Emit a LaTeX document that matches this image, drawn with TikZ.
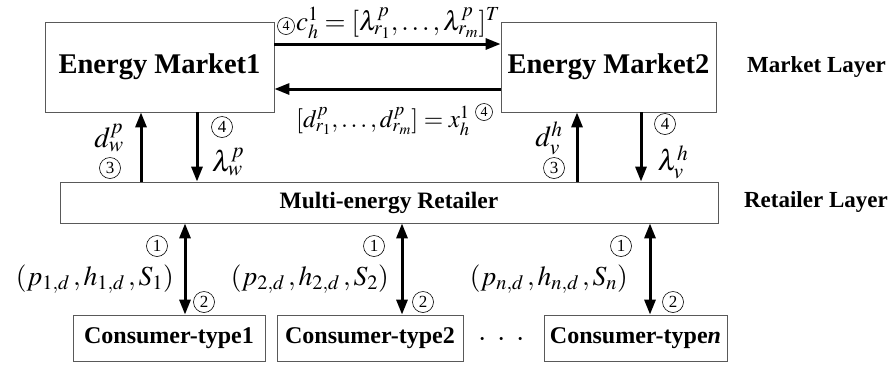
\documentclass[tikz,border=0pt]{standalone}
\usepackage{mathptmx}
\usepackage[no-math]{fontspec}
\setmainfont{Liberation Serif}
\usetikzlibrary{arrows.meta}
\begin{document}
\begin{tikzpicture}[x=1pt,y=-1pt,
  box/.style={draw=black!65,line width=0.8pt,inner sep=0pt,font=\bfseries},
  arr/.style={line width=3pt,-{Triangle[length=15pt,width=11pt]}},
  darr/.style={line width=3pt,{Triangle[length=15pt,width=11pt]}-{Triangle[length=15pt,width=11pt]}},
  cn/.style={circle,draw,line width=0.6pt,inner sep=0pt,minimum size=21pt,font=\fontsize{17}{17}\selectfont},
  cns/.style={circle,draw,line width=0.6pt,inner sep=0pt,minimum size=17pt,font=\fontsize{14}{14}\selectfont},
  lbl/.style={inner sep=0pt,font=\fontsize{27}{29}\selectfont},
  lblb/.style={inner sep=0pt,font=\fontsize{25}{27}\selectfont},
  big/.style={inner sep=0pt,font=\fontsize{29}{31}\selectfont},
  tup/.style={inner sep=0pt,font=\fontsize{27.5}{29}\selectfont},
  layer/.style={inner sep=0pt,font=\fontsize{23}{26}\selectfont\bfseries}]
\path[use as bounding box] (0,0) rectangle (891,365);
% boxes
\node[box,minimum width=229pt,minimum height=90pt,font=\fontsize{28.5}{32}\selectfont\bfseries] (m1) at (159.5,67) {Energy Market1};
\node[box,minimum width=215pt,minimum height=90pt,font=\fontsize{28.5}{32}\selectfont\bfseries] (m2) at (608.5,67) {Energy Market2};
\node[box,minimum width=658pt,minimum height=41pt,font=\fontsize{23.5}{26}\selectfont\bfseries] (ret) at (389,202.5) {Multi-energy Retailer};
\node[box,minimum width=192pt,minimum height=46pt,font=\fontsize{24}{26}\selectfont\bfseries] (c1) at (169,338) {Consumer-type1};
\node[box,minimum width=186pt,minimum height=46pt,font=\fontsize{24}{26}\selectfont\bfseries] (c2) at (370,338) {Consumer-type2};
\node[box,minimum width=183pt,minimum height=46pt,font=\fontsize{24}{26}\selectfont\bfseries] (cn3) at (635.5,338) {Consumer-type\textit{n}};
\node[inner sep=0pt,font=\fontsize{30}{30}\selectfont] (dots) at (502,340) {$\cdot\;\cdot\;\cdot$};
% layer labels
\node[layer,anchor=east] (ml) at (886,67) {Market Layer};
\node[layer,anchor=east] (rl) at (888,202) {Retailer Layer};
% market to market
\draw[arr] ([yshift=23pt]m1.east) -- ([yshift=23pt]m2.west);
\draw[arr] ([yshift=-22pt]m2.west) -- ([yshift=-22pt]m1.east);
\node[cns] (n4a) at (286,26) {4};
\node[lbl,anchor=west] (lt) at (296,23) {$c_h^1=[\lambda^p_{r_1},\ldots,\lambda^p_{r_m}]^T$};
\node[lblb,anchor=west] (lb) at (296,121) {$[d^p_{r_1},\ldots,d^p_{r_m}]=x^1_h$};
\node[cns] (n4b) at (484,112) {4};
% market1 - retailer
\draw[arr] ([xshift=-18.5pt]m1.south |- ret.north) -- ([xshift=-18.5pt]m1.south);
\draw[arr] ([xshift=37.5pt]m1.south) -- ([xshift=37.5pt]m1.south |- ret.north);
\node[big] (dw) at (109,138) {$d_w^p$};
\node[cn] (n3a) at (110,168) {3};
\node[cn] (n4c) at (222,127) {4};
\node[big] (lw) at (228,162) {$\lambda_w^p$};
% market2 - retailer
\draw[arr] ([xshift=-31.5pt]m2.south |- ret.north) -- ([xshift=-31.5pt]m2.south);
\draw[arr] ([xshift=32.5pt]m2.south) -- ([xshift=32.5pt]m2.south |- ret.north);
\node[big] (dv) at (549,138) {$d_v^h$};
\node[cn] (n3b) at (554,168) {3};
\node[cn] (n4d) at (665,124) {4};
\node[big] (lv) at (673,162) {$\lambda_v^h$};
% retailer - consumers
\draw[darr] ([xshift=16pt]c1.north) -- ([xshift=16pt]c1.north |- ret.south);
\draw[darr] ([xshift=32pt]c2.north) -- ([xshift=32pt]c2.north |- ret.south);
\draw[darr] ([xshift=14.5pt]cn3.north) -- ([xshift=14.5pt]cn3.north |- ret.south);
\node[cn] (n1a) at (157,246) {1};
\node[cn] (n2a) at (204,302) {2};
\node[cn] (n1b) at (374,246) {1};
\node[cn] (n2b) at (423,302) {2};
\node[cn] (n1c) at (621,246) {1};
\node[cn] (n2c) at (673,302) {2};
\node[tup,anchor=east] (t1) at (174,279) {$(p_{1,d}\,,h_{1,d}\,,S_1)$};
\node[tup,anchor=east] (t2) at (389,279) {$(p_{2,d}\,,h_{2,d}\,,S_2)$};
\node[tup,anchor=east] (t3) at (628,279) {$(p_{n,d}\,,h_{n,d}\,,S_n)$};
\end{tikzpicture}
\end{document}
